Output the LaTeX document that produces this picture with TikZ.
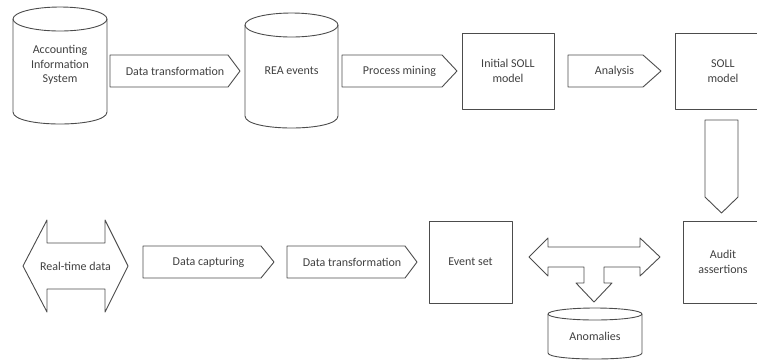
\documentclass[tikz,border=0pt]{standalone}
\usepackage{fontspec}
\setmainfont{Carlito}

\begin{document}
\begin{tikzpicture}[x=1pt, y=-1pt,
        shp/.style={draw=black!70, line width=0.9pt, line join=round},
        lbl/.style={font=\fontsize{12}{14.5}\selectfont, text=black!75,
            align=center, inner sep=0pt}]

        \useasboundingbox (0, 0) rectangle (757, 360);
        \clip (0, 0) rectangle (757, 360);

        % top row
        \draw[shp] (13, 19) -- (13, 112) .. controls (13, 128) and (107, 128)
            .. (107, 112) -- (107, 19);
        \draw[shp] (60, 19) ellipse [x radius=47pt, y radius=12pt];
        \node[lbl] (ais) at (60, 65) {Accounting\\Information\\System};

        \draw[shp] (110, 55) -- (228, 55) -- (240, 71) -- (228, 87) -- (110, 87) -- cycle;
        \node[lbl] (trans) at (175, 71) {Data transformation};

        \draw[shp] (245, 25) -- (245, 116) .. controls (245, 132) and (338, 132)
            .. (338, 116) -- (338, 25);
        \draw[shp] (291.5, 25) ellipse [x radius=46.5pt, y radius=12pt];
        \node[lbl] (rea) at (291.5, 71) {REA events};

        \draw[shp] (342, 55) -- (442, 55) -- (457, 71) -- (442, 87) -- (342, 87) -- cycle;
        \node[lbl] (mining) at (399.5, 71) {Process mining};

        \draw[shp] (462, 33) rectangle (554, 109);
        \node[lbl] (initsoll) at (508, 71) {Initial SOLL\\model};

        \draw[shp] (568, 55) -- (643, 55) -- (661, 71) -- (643, 87) -- (568, 87) -- cycle;
        \node[lbl] (analysis) at (614.5, 71) {Analysis};

        \draw[shp] (675, 33) rectangle (771, 109);
        \node[lbl] (soll) at (723, 71) {SOLL\\model};

        \draw[shp] (705, 120) -- (738, 120) -- (738, 197) -- (721.5, 213) -- (705, 197) -- cycle;

        % bottom row
        \draw[shp] (23, 266) -- (47, 220) -- (47, 243) -- (105, 243) -- (105, 220)
            -- (128, 266) -- (105, 312) -- (105, 289) -- (47, 289) -- (47, 312) -- cycle;
        \node[lbl] (realtime) at (75.5, 266) {Real-time data};

        \draw[shp] (143, 246) -- (261, 246) -- (274, 262) -- (261, 278) -- (143, 278) -- cycle;
        \node[lbl] (capture) at (208.5, 262) {Data capturing};

        \draw[shp] (287, 246) -- (405, 246) -- (417, 262) -- (405, 278) -- (287, 278) -- cycle;
        \node[lbl] (trans2) at (352, 262) {Data transformation};

        \draw[shp] (429, 221) rectangle (512, 303);
        \node[lbl] (events) at (470.5, 262) {Event set};

        \draw[shp] (529, 257) -- (548, 238) -- (548, 247) -- (640, 247) -- (640, 238)
            -- (660, 257) -- (640, 276) -- (640, 267) -- (604, 267) -- (604, 283)
            -- (612, 283) -- (594, 302) -- (576, 283) -- (584, 283) -- (584, 267)
            -- (548, 267) -- (548, 276) -- cycle;

        \draw[shp] (683, 221) rectangle (765, 303);
        \node[lbl] (audit) at (723, 262) {Audit\\assertions};

        \draw[shp] (548, 314) -- (548, 353) .. controls (548, 361) and (642, 361)
            .. (642, 353) -- (642, 314);
        \draw[shp] (595, 314) ellipse [x radius=47pt, y radius=6pt];
        \node[lbl] (anomalies) at (595, 336) {Anomalies};

    \end{tikzpicture}
\end{document}
